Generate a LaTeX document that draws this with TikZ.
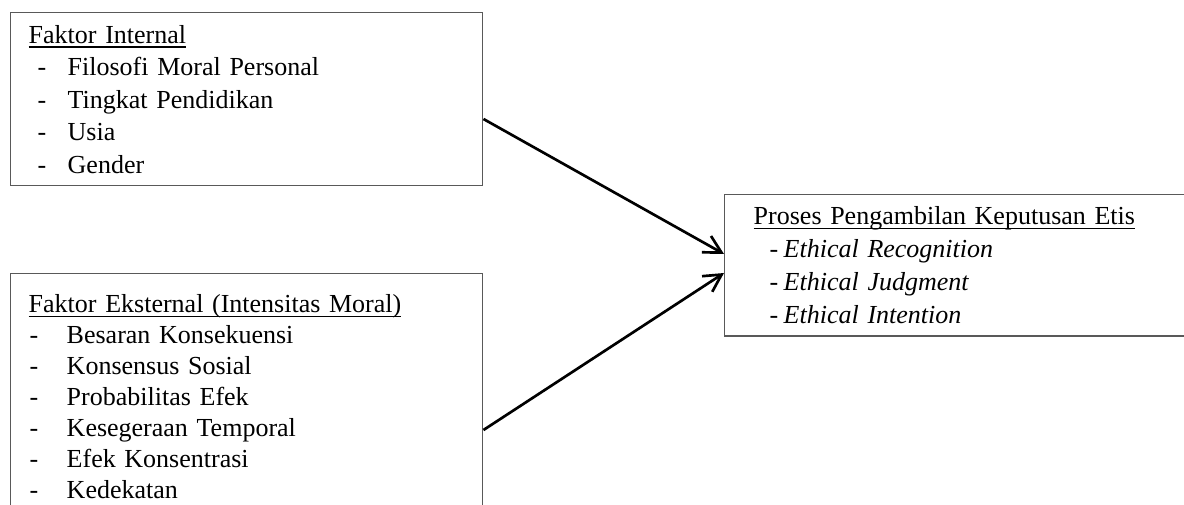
\documentclass[tikz,border=0pt]{standalone}
\usepackage{fontspec}
\setmainfont{Liberation Serif}
\usetikzlibrary{arrows.meta}

% underlined heading and dash item
\newcommand{\judul}[1]{\sbox0{#1}\rlap{\rule[-3.4pt]{\wd0}{1.1pt}}\usebox0}
\newcommand{\poin}[3]{\makebox[#2][l]{\hspace*{#1}-}#3}

\begin{document}
\begin{tikzpicture}[
  x=0.75pt, y=-0.75pt,
  box/.style={draw=black!65, line width=1.1pt, anchor=north west, align=left,
              inner xsep=13.5pt, inner ysep=0pt, text width=327pt,
              font=\fontsize{19.5}{24.4}\selectfont},
  arrow/.style={-{Straight Barb[length=13pt, width=14pt]}, line width=2pt},
]
\useasboundingbox (0,0) rectangle (1184,505);
\clip (0,0) rectangle (1184,505);

\node[box, minimum height=129.75pt] (internal) at (10,12) {%
  \judul{Faktor Internal}\\
  \poin{6.75pt}{29.25pt}{Filosofi Moral Personal}\\
  \poin{6.75pt}{29.25pt}{Tingkat Pendidikan}\\
  \poin{6.75pt}{29.25pt}{Usia}\\
  \poin{6.75pt}{29.25pt}{Gender}};

\node[box, font=\fontsize{19.5}{23.2}\selectfont, minimum height=184.4pt] (eksternal) at (10,273) {%
  \judul{Faktor Eksternal (Intensitas Moral)}\\
  \poin{0.75pt}{28.5pt}{Besaran Konsekuensi}\\
  \poin{0.75pt}{28.5pt}{Konsensus Sosial}\\
  \poin{0.75pt}{28.5pt}{Probabilitas Efek}\\
  \poin{0.75pt}{28.5pt}{Kesegeraan Temporal}\\
  \poin{0.75pt}{28.5pt}{Efek Konsentrasi}\\
  \poin{0.75pt}{28.5pt}{Kedekatan}};

\node[box, font=\fontsize{19.5}{24.8}\selectfont, inner xsep=21.75pt, text width=315pt,
      minimum height=106pt] (keputusan) at (724,194) {%
  \judul{Proses Pengambilan Keputusan Etis}\\
  \poin{12pt}{22.5pt}{\textit{Ethical Recognition}}\\
  \poin{12pt}{22.5pt}{\textit{Ethical Judgment}}\\
  \poin{12pt}{22.5pt}{\textit{Ethical Intention}}};

\draw[arrow] ([yshift=-80.25pt]internal.north east) -- ([yshift=-45pt]keputusan.north west);
\draw[arrow] ([yshift=-117.75pt]eksternal.north east) -- ([yshift=-59.25pt]keputusan.north west);
\end{tikzpicture}
\end{document}
